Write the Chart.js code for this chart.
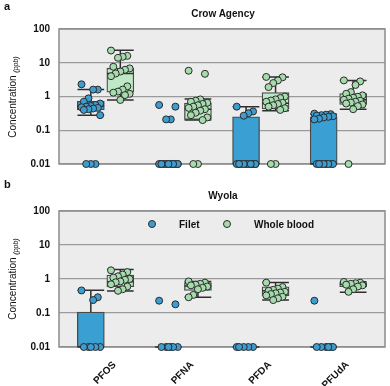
<!DOCTYPE html>
<html><head><meta charset="utf-8">
<script src="https://cdn.jsdelivr.net/npm/chart.js@4/dist/chart.umd.min.js"></script>
<style>
body{margin:0;background:#fff;font-family:"Liberation Sans",Arial,sans-serif;color:#111;}
#wrap{position:relative;width:390px;height:386px;overflow:hidden;}
canvas{position:absolute;left:0;}
.lbl{position:absolute;font-weight:bold;font-size:11px;}
.ttl{position:absolute;font-weight:bold;font-size:10px;white-space:nowrap;transform:translate(-50%,-50%);}
.yt{position:absolute;font-size:10px;white-space:nowrap;transform:translate(-50%,-50%) rotate(-90deg);}
.yt i{font-size:7px;vertical-align:-2px;}
.dot{position:absolute;width:6px;height:6px;border-radius:50%;border:1px solid #2b2b2b;transform:translate(-50%,-50%);}
.lg{position:absolute;font-weight:bold;font-size:10px;transform:translateY(-50%);white-space:nowrap;}
</style></head>
<body><div id="wrap">
<canvas id="ca" width="390" height="185" style="top:0"></canvas>
<canvas id="cb" width="390" height="201" style="top:185px"></canvas>
<div class="lbl" style="left:4px;top:0px">a</div>
<div class="lbl" style="left:4px;top:178px">b</div>
<div class="ttl" style="left:223px;top:13px">Crow Agency</div>
<div class="ttl" style="left:223px;top:195px">Wyola</div>
<div class="yt" style="left:13px;top:97px">Concentration <i>(ppb)</i></div>
<div class="yt" style="left:13px;top:279px">Concentration <i>(ppb)</i></div>
<div class="dot" style="left:152px;top:224px;background:#3d9dd0"></div>
<div class="lg" style="left:179px;top:224px">Filet</div>
<div class="dot" style="left:227px;top:224px;background:#a6dbae"></div>
<div class="lg" style="left:254px;top:224px">Whole blood</div>
</div>
<script>
// ---- data ----
const categories = ['PFOS','PFNA','PFDA','PFUdA'];
const yTicks = [0.01, 0.1, 1, 10, 100];
const yTickLabels = ['0.01','0.1','1','10','100'];

// Crow Agency: individual values (per category)
const crowFilet = [
  [2.3, 1.6, 1.6, 0.88, 0.7, 0.62, 0.56, 0.52, 0.5, 0.48, 0.46, 0.44, 0.42, 0.4, 0.28, 0.01, 0.01, 0.01],
  [0.56, 0.5, 0.21, 0.21, 0.01, 0.01, 0.01, 0.01, 0.01, 0.01, 0.01, 0.01, 0.01, 0.01, 0.01, 0.01, 0.01],
  [0.5, 0.36, 0.32, 0.27, 0.01, 0.01, 0.01, 0.01, 0.01, 0.01, 0.01, 0.01, 0.01, 0.01, 0.01, 0.01],
  [0.31, 0.3, 0.29, 0.28, 0.27, 0.26, 0.25, 0.24, 0.22, 0.21, 0.01, 0.01, 0.01, 0.01, 0.01, 0.01, 0.01, 0.01]
];
const crowBlood = [
  [23, 16, 15, 14, 7.6, 6.8, 6.2, 5.5, 4.8, 4.0, 2.0, 1.6, 1.4, 1.3, 1.2, 1.1, 0.79],
  [5.8, 4.7, 0.82, 0.75, 0.7, 0.65, 0.6, 0.55, 0.5, 0.46, 0.42, 0.38, 0.33, 0.28, 0.24, 0.2, 0.01, 0.01],
  [3.8, 3.7, 3.0, 2.5, 1.9, 1.0, 0.9, 0.82, 0.76, 0.7, 0.65, 0.6, 0.55, 0.5, 0.45, 0.4, 0.01, 0.01],
  [3.0, 2.8, 2.2, 1.35, 1.2, 1.08, 0.98, 0.92, 0.86, 0.8, 0.75, 0.7, 0.66, 0.62, 0.58, 0.52, 0.42, 0.01]
];
// box stats: [lower whisker, q1, median, q3, upper whisker]
const crowFiletBox = [
  [0.28, 0.4, 0.52, 0.72, 1.6],
  [0.01, 0.01, 0.01, 0.01, 0.01],
  [0.01, 0.01, 0.01, 0.25, 0.5],
  [0.01, 0.01, 0.01, 0.25, 0.3]
];
const crowBloodBox = [
  [0.79, 1.35, 4.8, 6.9, 23.5],
  [0.2, 0.21, 0.42, 0.64, 0.84],
  [0.38, 0.43, 0.63, 1.3, 3.8],
  [0.42, 0.58, 0.8, 1.22, 3.0]
];

// Wyola
const wyolaFilet = [
  [0.46, 0.29, 0.24, 0.01, 0.01, 0.01, 0.01, 0.01],
  [0.23, 0.18, 0.01, 0.01, 0.01, 0.01, 0.01, 0.01],
  [0.01, 0.01, 0.01, 0.01, 0.01],
  [0.23, 0.01, 0.01, 0.01, 0.01, 0.01, 0.01]
];
const wyolaBlood = [
  [1.8, 1.6, 1.35, 1.2, 1.1, 1.0, 0.95, 0.85, 0.8, 0.7, 0.6, 0.5, 0.45],
  [0.85, 0.78, 0.72, 0.68, 0.65, 0.6, 0.55, 0.5, 0.34, 0.29],
  [0.78, 0.58, 0.52, 0.48, 0.45, 0.42, 0.4, 0.38, 0.36, 0.33, 0.3, 0.27, 0.24],
  [0.82, 0.78, 0.75, 0.72, 0.68, 0.65, 0.6, 0.5, 0.42]
];
const wyolaFiletBox = [
  [0.01, 0.01, 0.01, 0.107, 0.47],
  [0.01, 0.01, 0.01, 0.01, 0.01],
  [0.01, 0.01, 0.01, 0.01, 0.01],
  [0.01, 0.01, 0.01, 0.01, 0.01]
];
const wyolaBloodBox = [
  [0.44, 0.59, 0.83, 1.3, 1.9],
  [0.29, 0.46, 0.62, 0.78, 0.85],
  [0.24, 0.32, 0.45, 0.59, 0.79],
  [0.41, 0.59, 0.7, 0.79, 0.83]
];

// ---- styling ----
const XMIN = 0.4, XMAX = 4.6, OFF = 0.19, HALF = 0.172;
const BLUE_BOX = '#3a9fd3', GREEN_BOX = '#bfe9c6';
const BLUE_PT = '#3d9dd0', GREEN_PT = '#a6dbae';
function jit(i){ return ((((i*7)%9)-4)/4)*0.12; }

const bgPlugin = {
  id:'bg',
  beforeDraw(c){ const {ctx, chartArea:a} = c; ctx.save(); ctx.fillStyle='#ececec'; ctx.fillRect(a.left,a.top,a.width,a.height); ctx.restore(); },
  beforeDatasetsDraw(c){ const {ctx, chartArea:a} = c; ctx.save(); ctx.strokeStyle='#8c8c8c'; ctx.lineWidth=1.5; ctx.strokeRect(a.left,a.top,a.width,a.height); ctx.restore(); }
};

function boxBars(boxes, off){ return boxes.map((b,k)=>({x:k+1+off, y:[b[1], b[3]]})); }
function boxLines(boxes, off){
  const pts=[];
  boxes.forEach((b,k)=>{
    const c=k+1+off; const [lo,q1,med,q3,hi]=b;
    pts.push({x:c-HALF,y:hi},{x:c+HALF,y:hi},{x:c,y:null},
             {x:c,y:hi},{x:c,y:q3},{x:c,y:null},
             {x:c,y:q1},{x:c,y:lo},{x:c,y:null},
             {x:c-HALF,y:lo},{x:c+HALF,y:lo},{x:c,y:null},
             {x:c-HALF,y:med},{x:c+HALF,y:med},{x:c,y:null});
  });
  return pts;
}
function points(series, off){ return series.flatMap((vals,k)=>vals.map((v,i)=>({x:k+1+off+jit(i), y:v}))); }

function build(id, filet, blood, filetBox, bloodBox, showX, pad){
  const ds = [
    {type:'bar', data:boxBars(filetBox,-OFF), backgroundColor:BLUE_BOX, borderColor:'#4a4a4a', borderWidth:1.3, borderSkipped:false, barThickness:27, grouped:false, order:3},
    {type:'bar', data:boxBars(bloodBox,OFF), backgroundColor:GREEN_BOX, borderColor:'#4a4a4a', borderWidth:1.3, borderSkipped:false, barThickness:27, grouped:false, order:3},
    {type:'line', data:boxLines(filetBox,-OFF), borderColor:'#2e2e2e', borderWidth:1.5, pointRadius:0, spanGaps:false, fill:false, clip:false, order:2},
    {type:'line', data:boxLines(bloodBox,OFF), borderColor:'#2e2e2e', borderWidth:1.5, pointRadius:0, spanGaps:false, fill:false, clip:false, order:2},
    {type:'scatter', data:points(filet,-OFF), backgroundColor:BLUE_PT, borderColor:'#2b2b2b', borderWidth:1, pointRadius:3.5, clip:false, order:0},
    {type:'scatter', data:points(blood,OFF), backgroundColor:GREEN_PT, borderColor:'#2b2b2b', borderWidth:1, pointRadius:3.5, clip:false, order:1}
  ];
  const xScale = {type:'linear', min:XMIN, max:XMAX, offset:false, display:showX,
    grid:{display:false, drawTicks:false}, border:{display:false},
    afterBuildTicks:s=>{ s.ticks = categories.map((c,i)=>({value:i+1})); },
    ticks:{autoSkip:false, minRotation:45, maxRotation:45, labelOffset:9, padding:12,
           color:'#111', font:{family:'"Liberation Sans", Arial, sans-serif', size:10, weight:'bold'},
           callback:(v,i)=>categories[i]}};
  if (showX) xScale.afterFit = s=>{ s.height = 39; };
  return new Chart(document.getElementById(id), {
    type:'bar',
    data:{datasets:ds},
    plugins:[bgPlugin],
    options:{
      responsive:false, animation:false, devicePixelRatio:1,
      layout:{padding:pad},
      plugins:{legend:{display:false}, tooltip:{enabled:false}},
      scales:{
        x:xScale,
        y:{type:'logarithmic', min:0.01, max:100,
           afterBuildTicks:s=>{ s.ticks = yTicks.map(v=>({value:v})); },
           afterFit:s=>{ s.width = 59; },
           grid:{color:'#9a9a9a', lineWidth:1.2, drawTicks:false}, border:{display:false},
           ticks:{padding:9, color:'#111', font:{family:'"Liberation Sans", Arial, sans-serif', size:10, weight:'bold'},
                  callback:(v,i)=>yTickLabels[i]}}
      }
    }
  });
}
build('ca', crowFilet, crowBlood, crowFiletBox, crowBloodBox, false, {top:29, right:2, bottom:21, left:0});
build('cb', wyolaFilet, wyolaBlood, wyolaFiletBox, wyolaBloodBox, true, {top:26, right:2, bottom:0, left:0});
</script>
</body></html>
